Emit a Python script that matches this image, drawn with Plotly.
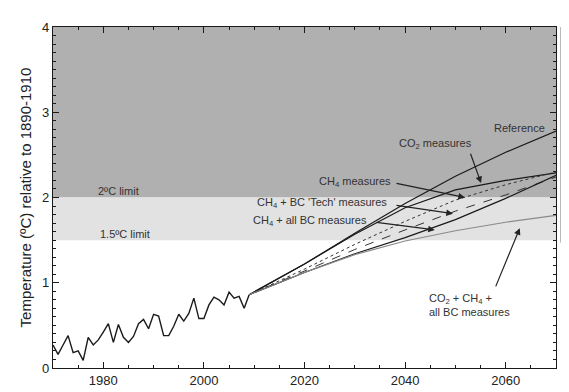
import plotly.graph_objects as go

# ---------------- data ----------------
obs_years = list(range(1970, 2010))
obs_temp = [0.27, 0.16, 0.27, 0.38, 0.18, 0.20, 0.09, 0.36, 0.27, 0.33,
            0.42, 0.52, 0.30, 0.51, 0.36, 0.30, 0.37, 0.52, 0.57, 0.46,
            0.63, 0.61, 0.38, 0.38, 0.49, 0.63, 0.55, 0.64, 0.82, 0.58,
            0.58, 0.74, 0.83, 0.80, 0.74, 0.89, 0.82, 0.84, 0.70, 0.86]

proj_years = [2009, 2020, 2030, 2040, 2050, 2060, 2070]
reference = [0.86, 1.22, 1.58, 1.93, 2.25, 2.53, 2.78]
co2_measures = [0.86, 1.22, 1.57, 1.88, 2.09, 2.20, 2.29]
ch4_measures = [0.86, 1.16, 1.45, 1.72, 1.97, 2.15, 2.30]
ch4_bc_tech = [0.86, 1.14, 1.39, 1.62, 1.84, 2.03, 2.24]
ch4_all_bc = [0.86, 1.12, 1.34, 1.53, 1.74, 1.99, 2.26]
co2_ch4_all_bc = [0.86, 1.12, 1.33, 1.49, 1.61, 1.71, 1.79]

# 2070 ranges shown outside the frame (low, high)
range_low = [1.47, 2.15, 1.58]
range_high = [4.0, 3.66, 3.49]

limit_2 = 2.0
limit_15 = 1.5
y_top = 4.0

fig = go.Figure()

# shaded limit zones
fig.add_shape(type="rect", xref="paper", yref="y", x0=0, x1=1, y0=limit_2, y1=y_top,
              fillcolor="#b0b0b0", line_width=0, layer="below")
fig.add_shape(type="rect", xref="paper", yref="y", x0=0, x1=1, y0=limit_15, y1=limit_2,
              fillcolor="#e2e2e2", line_width=0, layer="below")

fig.add_trace(go.Scatter(x=obs_years, y=obs_temp, mode="lines",
                         line=dict(color="#1a1a1a", width=1.4), name="Observed"))

series = [
    ("Reference", reference, dict(color="#1a1a1a", width=1.2)),
    ("CO2 measures", co2_measures, dict(color="#1a1a1a", width=1.2)),
    ("CH4 measures", ch4_measures, dict(color="#333333", width=1.0, dash="dot")),
    ("CH4 + BC Tech", ch4_bc_tech, dict(color="#333333", width=1.0, dash="dash")),
    ("CH4 + all BC", ch4_all_bc, dict(color="#1a1a1a", width=1.2)),
    ("CO2 + CH4 + all BC", co2_ch4_all_bc, dict(color="#8a8a8a", width=1.1)),
]
for name, vals, ln in series:
    fig.add_trace(go.Scatter(x=proj_years, y=vals, mode="lines", line=ln, name=name))

# range bars to the right of the frame
bar_x = [1.010, 1.024, 1.036]
bar_dash = ["solid", "dot", "dot"]
for bx, lo, hi, dsh in zip(bar_x, range_low, range_high, bar_dash):
    fig.add_shape(type="line", xref="paper", yref="y", x0=bx, x1=bx, y0=lo, y1=hi,
                  line=dict(color="#707070", width=1, dash=dsh), layer="above")

tf = dict(family="Liberation Sans, Arial, sans-serif", size=11, color="#333333")

def label(x, y, text, xanchor="center"):
    fig.add_annotation(x=x, y=y, text=text, showarrow=False, font=tf, xanchor=xanchor)

def arrow(x0, y0, x1, y1):
    fig.add_annotation(x=x1, y=y1, ax=x0, ay=y0, axref="x", ayref="y", xref="x", yref="y",
                       text="", showarrow=True, arrowhead=2, arrowsize=1.1,
                       arrowwidth=1.2, arrowcolor="#222222")

label(1983.0, 2.08, "2ºC limit")
label(1984.3, 1.57, "1.5ºC limit")
label(2068.3, 2.81, "Reference", xanchor="right")
label(2046.1, 2.63, "CO<sub>2</sub> measures")
arrow(2052.9, 2.53, 2055.1, 2.17)
label(2030.0, 2.18, "CH<sub>4</sub> measures")
arrow(2038.0, 2.17, 2051.9, 2.00)
label(2023.5, 1.94, "CH<sub>4</sub> + BC 'Tech' measures")
arrow(2038.0, 1.91, 2049.5, 1.81)
label(2021.1, 1.73, "CH<sub>4</sub> + all BC measures")
arrow(2034.0, 1.71, 2045.9, 1.62)
fig.add_annotation(x=2052.9, y=0.74, text="CO<sub>2</sub> + CH<sub>4</sub> +<br>all BC measures",
                   showarrow=False, font=tf, align="left")
arrow(2057.9, 0.94, 2062.8, 1.64)

axis_common = dict(showline=True, linecolor="#1a1a1a", linewidth=1.2, mirror="allticks",
                   ticks="inside", ticklen=6, tickwidth=1, tickcolor="#1a1a1a",
                   showgrid=False, zeroline=False,
                   tickfont=dict(family="Liberation Sans, Arial, sans-serif", size=13, color="#222222"))

fig.update_layout(
    width=569, height=392,
    margin=dict(l=45, r=21, t=14, b=21),
    paper_bgcolor="white", plot_bgcolor="white",
    showlegend=False,
    xaxis=dict(range=[1970, 2070], tick0=1980, dtick=20,
               minor=dict(dtick=5, ticks="inside", ticklen=3, tickcolor="#1a1a1a"),
               **axis_common),
    yaxis=dict(range=[0, 4], dtick=1,
               minor=dict(dtick=0.1, ticks="inside", ticklen=3, tickcolor="#1a1a1a"),
               title=dict(text="Temperature (ºC) relative to 1890-1910", standoff=6,
                          font=dict(family="Liberation Sans, Arial, sans-serif", size=15, color="#222222")),
               **axis_common),
)

fig.write_html("out.html")
